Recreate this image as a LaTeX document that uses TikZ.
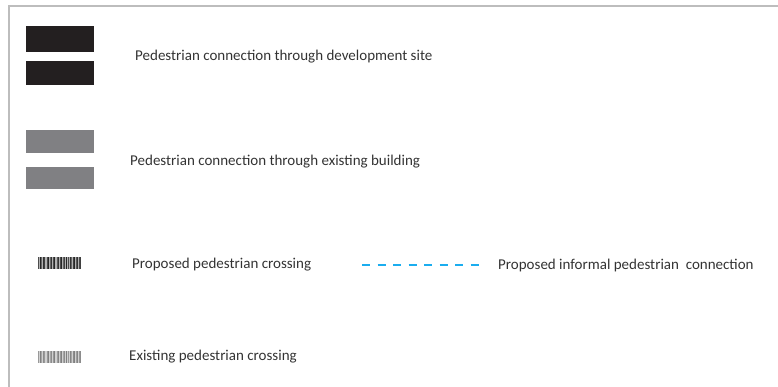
\documentclass[tikz,border=0pt]{standalone}
\usepackage{fontspec}
\setmainfont{Carlito}
\definecolor{txt}{HTML}{333333}
\definecolor{blk}{HTML}{231F20}
\definecolor{gry}{HTML}{808083}
\definecolor{frame}{HTML}{BDBDBD}
\definecolor{cyanline}{HTML}{1BADEF}
\begin{document}
\begin{tikzpicture}[x=1pt,y=-1pt,
  lbl/.style={anchor=west,inner sep=0pt,text=txt,font=\fontsize{15}{17}\selectfont},
  darkbox/.style={fill=blk,draw=none},
  greybox/.style={fill=gry,draw=none}]
\useasboundingbox (0,0) rectangle (778,387);
% frame
\draw[frame,line width=1.5pt] (9,387) -- (9,6) -- (778,6);
% development site
\path[darkbox] (26,26) rectangle (94,52);
\path[darkbox] (26,61) rectangle (94,85);
\node[lbl] (t1) at (135,57) {Pedestrian connection through development site};
% existing building
\path[greybox] (26,130) rectangle (94,153);
\path[greybox] (26,167) rectangle (94,189);
\node[lbl] (t2) at (130,162) {Pedestrian connection through existing building};
% proposed crossing barcode
\fill[black!30] (38,257) rectangle (81,269);
\foreach \x/\c in {38/70,39.5/85,41/60,42.5/80,44/75,46.5/70,48/85,49.5/60,51/80,52.5/70,54/85,56.5/65,58/80,59.5/70,61/85,62.5/60,64/75,65.5/85,68/70,69.5/80,71/60,72.5/75,74/85,75.5/65,77/80,78.5/70,80/75}
  \fill[black!\c] (\x,257) rectangle ++(1,12);
\node[lbl] (t3) at (132,265) {Proposed pedestrian crossing};
% informal connection
\coordinate (d1) at (362,265);
\coordinate (d2) at (484,265);
\draw[cyanline,line width=2.2pt,dash pattern=on 8pt off 7.5pt] (d1) -- (d2);
\node[lbl] (t4) at (498,265) {Proposed informal pedestrian\ \ connection};
% existing crossing barcode
\fill[black!18] (38,351) rectangle (81,363);
\foreach \x/\c in {38/40,39.5/50,41/35,42.5/45,44/40,46.5/40,48/50,49.5/35,51/45,52.5/40,54/50,56.5/38,58/48,59.5/40,61/50,62.5/35,64/45,65.5/50,68/40,69.5/48,71/35,72.5/45,74/50,75.5/38,77/48,78.5/40,80/45}
  \fill[black!\c] (\x,351) rectangle ++(1,12);
\node[lbl] (t5) at (129,357) {Existing pedestrian crossing};
\end{tikzpicture}
\end{document}
